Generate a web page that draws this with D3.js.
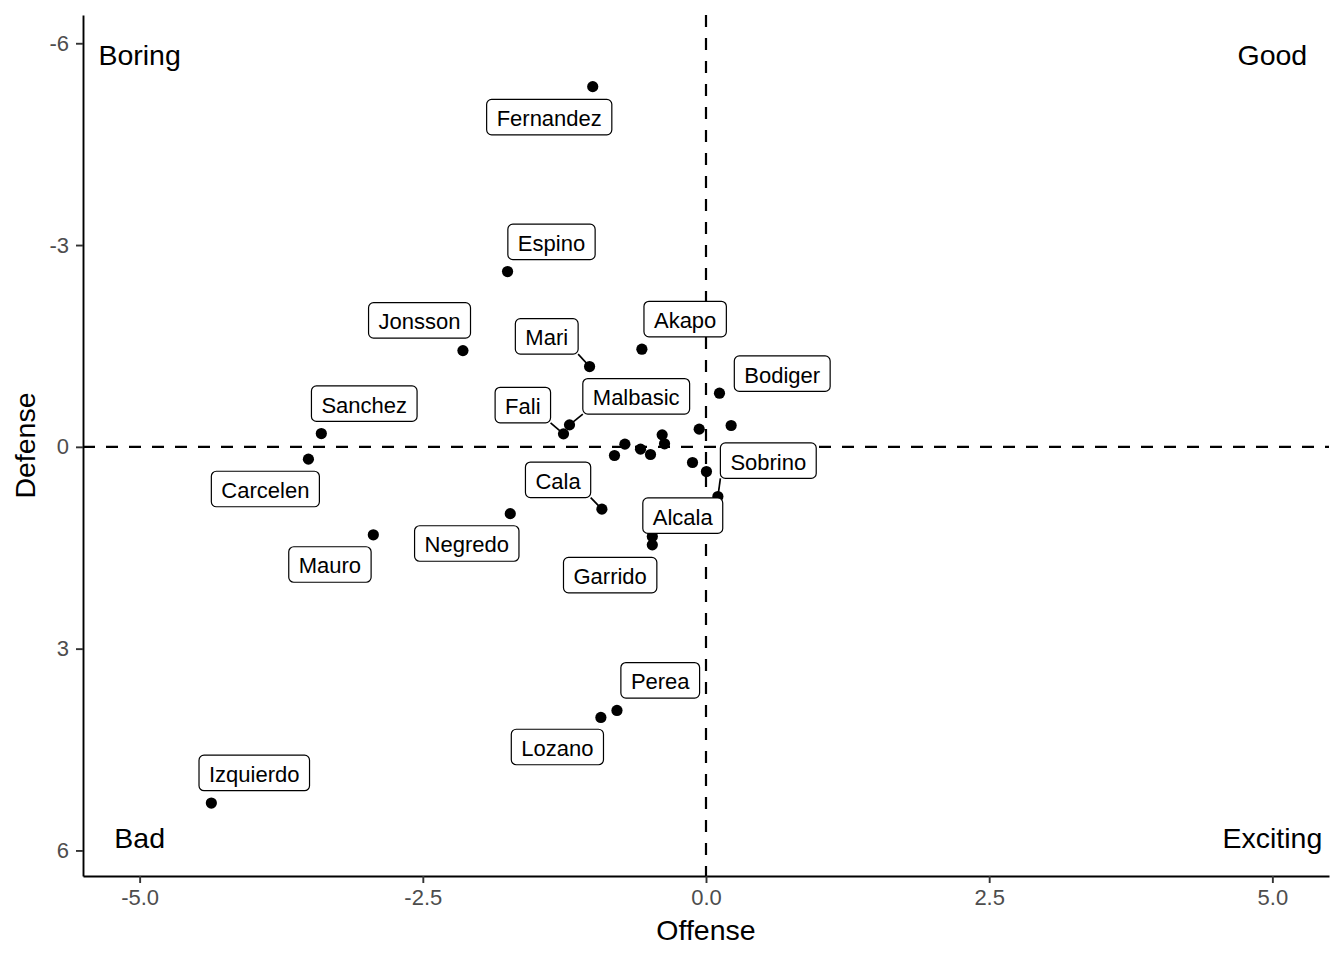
<!DOCTYPE html>
<html>
<head>
<meta charset="utf-8">
<script src="https://cdn.jsdelivr.net/npm/d3@7"></script>
<style>
  html, body { margin: 0; padding: 0; background: #ffffff; }
  svg { display: block; font-family: "Liberation Sans", Arial, Helvetica, sans-serif; }
</style>
</head>
<body>
<svg id="chart" width="1344" height="960"></svg>
<script>
// ---- data ----
const players = ["Fernandez","Espino","Jonsson","Mari","Akapo","Bodiger","Malbasic","Fali","Sanchez","Carcelen",
                 "Cala","Negredo","Mauro","Sobrino","Alcala","Garrido","Perea","Lozano","Izquierdo",
                 "","","","","","","","","",""];
const offense = [-1.000,-1.752,-2.146,-1.028,-0.566,0.119,-1.205,-1.258,-3.396,-3.510,
                 -0.919,-1.728,-2.937,0.105,-0.474,-0.474,-0.786,-0.928,-4.367,
                 0.222,-0.060,-0.808,-0.716,-0.578,-0.490,-0.387,-0.366,-0.119,0.004];
const defense = [-5.355,-2.606,-1.431,-1.194,-1.452,-0.798,-0.327,-0.193,-0.198,0.183,
                 0.926,0.993,1.308,0.739,1.333,1.457,3.919,4.023,5.296,
                 -0.317,-0.263,0.129,-0.040,0.034,0.114,-0.178,-0.045,0.233,0.367];
// label positions (repelled), in data units
const labelOffense = [-1.384,-1.364,-2.529,-1.406,-0.184,0.673,-0.616,-1.617,-3.017,-3.890,
                      -1.306,-2.112,-3.320,0.550,-0.205,-0.846,-0.404,-1.312,-3.988];
const labelDefense = [-4.902,-3.047,-1.880,-1.642,-1.900,-1.088,-0.751,-0.621,-0.642,0.627,
                      0.490,1.437,1.749,0.205,1.023,1.907,3.471,4.462,4.848];
const quadrantText = ["Boring","Good","Bad","Exciting"];
const quadrantX = [-5, 5, -5, 5];
const quadrantY = [-5.83, -5.83, 5.81, 5.81];
const xTicks = [-5, -2.5, 0, 2.5, 5];
const yTicks = [-6, -3, 0, 3, 6];

// ---- layout ----
const svg = d3.select("#chart");
svg.append("rect").attr("width",1344).attr("height",960).attr("fill","#ffffff");
const x = d3.scaleLinear().domain([-5.5, 5.5]).range([83, 1329]);
const y = d3.scaleLinear().domain([-6.42, 6.38]).range([15, 876]);

// reference lines
svg.append("line").attr("x1", x(0)).attr("x2", x(0)).attr("y1", y.range()[0]).attr("y2", y.range()[1])
  .attr("stroke","#000").attr("stroke-width",2.2).attr("stroke-dasharray","12,11");
svg.append("line").attr("x1", x.range()[0]).attr("x2", x.range()[1]).attr("y1", y(0)).attr("y2", y(0))
  .attr("stroke","#000").attr("stroke-width",2.2).attr("stroke-dasharray","12,11");

// axes
const xAxis = svg.append("g").attr("transform", `translate(0,${y.range()[1]})`)
  .call(d3.axisBottom(x).tickValues(xTicks).tickFormat(d => d.toFixed(1)).tickSize(7).tickSizeOuter(0).tickPadding(6));
const yAxis = svg.append("g").attr("transform", `translate(${x.range()[0]},0)`)
  .call(d3.axisLeft(y).tickValues(yTicks).tickFormat(d => String(d)).tickSize(7).tickSizeOuter(0).tickPadding(7));
[xAxis, yAxis].forEach(g => {
  g.select(".domain").attr("stroke","#000").attr("stroke-width",1.9);
  g.selectAll(".tick line").attr("stroke","#333333").attr("stroke-width",1.9);
  g.selectAll(".tick text").attr("fill","#4D4D4D").style("font-size","22px")
    .style("font-family",'"Liberation Sans", Arial, Helvetica, sans-serif');
});

// axis titles
svg.append("text").attr("x", (x.range()[0]+x.range()[1])/2).attr("y", 940)
  .attr("text-anchor","middle").style("font-size","28.5px").attr("fill","#000").text("Offense");
svg.append("text").attr("transform", `translate(35,${(y.range()[0]+y.range()[1])/2}) rotate(-90)`)
  .attr("text-anchor","middle").style("font-size","28.5px").attr("fill","#000").text("Defense");

// points
const pts = players.map((p,i) => ({name:p, ox:offense[i], dy:defense[i]}));
svg.append("g").selectAll("circle").data(pts).join("circle")
  .attr("cx", d => x(d.ox)).attr("cy", d => y(d.dy)).attr("r", 5.6).attr("fill","#000");

// labels
const labs = players.slice(0, labelOffense.length).map((p,i) => ({
  name:p, px:x(offense[i]), py:y(defense[i]), cx:x(labelOffense[i]), cy:y(labelDefense[i])
}));
const fs = 22, padX = 10, boxH = 35.5;
const lg = svg.append("g");
const meas = svg.append("text").style("font-size", fs+"px");
labs.forEach(l => { meas.text(l.name); l.w = meas.node().getComputedTextLength() + 2*padX; });
meas.remove();
// segments (drawn when the label sits far enough from its point)
labs.forEach(l => {
  const x0 = l.cx - l.w/2, x1 = l.cx + l.w/2, y0 = l.cy - boxH/2, y1 = l.cy + boxH/2;
  const nx = Math.max(x0, Math.min(x1, l.px)), ny = Math.max(y0, Math.min(y1, l.py));
  const dist = Math.hypot(nx - l.px, ny - l.py);
  if (dist > 15.05) {
    lg.append("line").attr("x1", l.px).attr("y1", l.py).attr("x2", nx).attr("y2", ny)
      .attr("stroke","#000").attr("stroke-width",1.7);
  }
});
const lab = lg.selectAll("g.lab").data(labs).join("g").attr("class","lab");
lab.append("rect")
  .attr("x", d => d.cx - d.w/2).attr("y", d => d.cy - boxH/2)
  .attr("width", d => d.w).attr("height", boxH).attr("rx", 5).attr("ry", 5)
  .attr("fill","#fff").attr("stroke","#000").attr("stroke-width",1.2);
lab.append("text")
  .attr("x", d => d.cx).attr("y", d => d.cy + 0.358*fs + 1)
  .attr("text-anchor","middle").style("font-size", fs+"px").attr("fill","#000")
  .text(d => d.name);

// quadrant annotations
svg.append("g").selectAll("text").data(quadrantText).join("text")
  .attr("x", (d,i) => x(quadrantX[i])).attr("y", (d,i) => y(quadrantY[i]) + 0.358*28.5)
  .attr("text-anchor","middle").style("font-size","28.5px").attr("fill","#000")
  .text(d => d);
</script>
</body>
</html>
